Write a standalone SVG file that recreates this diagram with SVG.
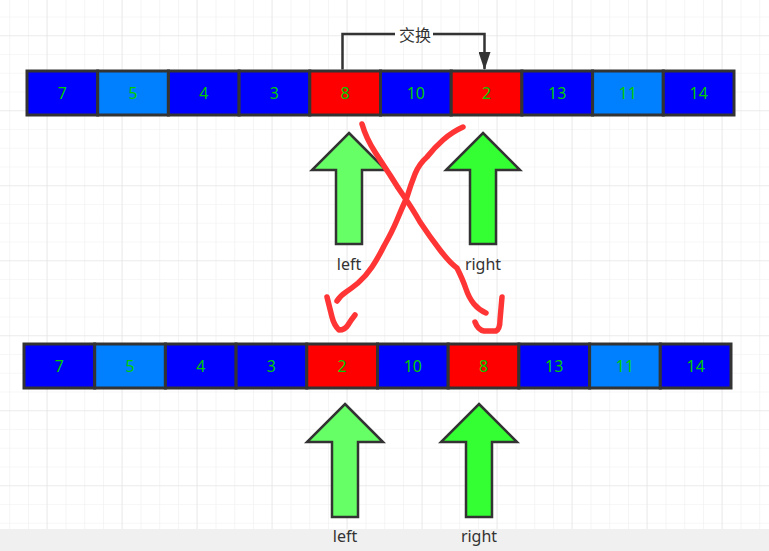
<svg xmlns="http://www.w3.org/2000/svg" width="769" height="551" viewBox="0 0 769 551">
<defs>
<pattern id="minor" x="9.25" y="16.5" width="18.75" height="18.75" patternUnits="userSpaceOnUse">
<path d="M0,0 V18.75 M0,0 H18.75" fill="none" stroke="#efefef" stroke-width="1.2"/>
</pattern>
<pattern id="major" x="46.5" y="35.25" width="75" height="75" patternUnits="userSpaceOnUse">
<path d="M0,0 V75 M0,0 H75" fill="none" stroke="#e2e2e2" stroke-width="1.2"/>
</pattern>
<marker id="ah" viewBox="0 0 18 12" refX="17" refY="6" markerWidth="18" markerHeight="12" markerUnits="userSpaceOnUse" orient="auto">
<path d="M0,0 L18,6 L0,12 Z" fill="#333"/>
</marker>
<style>
.cell{stroke:#333;stroke-width:3}
.b{fill:#0000ff}.lb{fill:#007fff}.r{fill:#ff0000}
.num{font-family:"Noto Sans","Liberation Sans",sans-serif;font-size:16px;fill:#00cc00;text-anchor:middle;dominant-baseline:central}
.lab{font-family:"Noto Sans","Liberation Sans",sans-serif;font-size:16px;fill:#333;text-anchor:middle;dominant-baseline:central}
.up{stroke:#333;stroke-width:2.5;stroke-linejoin:miter}
.red{fill:none;stroke:#ff3535;stroke-width:5.5;stroke-linecap:round;stroke-linejoin:round}
</style>
</defs>
<rect width="769" height="551" fill="#ffffff"/>
<rect width="769" height="529" fill="url(#minor)"/>
<rect width="769" height="529" fill="url(#major)"/>
<rect y="529" width="769" height="22" fill="#f0f0f0"/>

<g id="row-top">
<g id="t0"><rect class="cell b" x="27" y="71" width="70.7" height="44"/><text class="num" x="62.35" y="93">7</text></g>
<g id="t1"><rect class="cell lb" x="97.7" y="71" width="70.7" height="44"/><text class="num" x="133.05" y="93">5</text></g>
<g id="t2"><rect class="cell b" x="168.4" y="71" width="70.7" height="44"/><text class="num" x="203.75" y="93">4</text></g>
<g id="t3"><rect class="cell b" x="239.1" y="71" width="70.7" height="44"/><text class="num" x="274.45" y="93">3</text></g>
<g id="t4"><rect class="cell r" x="309.8" y="71" width="70.7" height="44"/><text class="num" x="345.15" y="93">8</text></g>
<g id="t5"><rect class="cell b" x="380.5" y="71" width="70.7" height="44"/><text class="num" x="415.85" y="93">10</text></g>
<g id="t6"><rect class="cell r" x="451.2" y="71" width="70.7" height="44"/><text class="num" x="486.55" y="93">2</text></g>
<g id="t7"><rect class="cell b" x="521.9" y="71" width="70.7" height="44"/><text class="num" x="557.25" y="93">13</text></g>
<g id="t8"><rect class="cell lb" x="592.6" y="71" width="70.7" height="44"/><text class="num" x="627.95" y="93">11</text></g>
<g id="t9"><rect class="cell b" x="663.3" y="71" width="70.7" height="44"/><text class="num" x="698.65" y="93">14</text></g>
</g>

<g id="row-bottom">
<g id="b0"><rect class="cell b" x="24" y="344" width="70.7" height="44"/><text class="num" x="59.35" y="366">7</text></g>
<g id="b1"><rect class="cell lb" x="94.7" y="344" width="70.7" height="44"/><text class="num" x="130.05" y="366">5</text></g>
<g id="b2"><rect class="cell b" x="165.4" y="344" width="70.7" height="44"/><text class="num" x="200.75" y="366">4</text></g>
<g id="b3"><rect class="cell b" x="236.1" y="344" width="70.7" height="44"/><text class="num" x="271.45" y="366">3</text></g>
<g id="b4"><rect class="cell r" x="306.8" y="344" width="70.7" height="44"/><text class="num" x="342.15" y="366">2</text></g>
<g id="b5"><rect class="cell b" x="377.5" y="344" width="70.7" height="44"/><text class="num" x="412.85" y="366">10</text></g>
<g id="b6"><rect class="cell r" x="448.2" y="344" width="70.7" height="44"/><text class="num" x="483.55" y="366">8</text></g>
<g id="b7"><rect class="cell b" x="518.9" y="344" width="70.7" height="44"/><text class="num" x="554.25" y="366">13</text></g>
<g id="b8"><rect class="cell lb" x="589.6" y="344" width="70.7" height="44"/><text class="num" x="624.95" y="366">11</text></g>
<g id="b9"><rect class="cell b" x="660.3" y="344" width="70.7" height="44"/><text class="num" x="695.65" y="366">14</text></g>
</g>

<g id="connectors">
<path d="M342.5,69.5 V34 H484.5 V69" fill="none" stroke="#333" stroke-width="2.5" marker-end="url(#ah)"/>
<rect x="395" y="25" width="38" height="18" fill="#ffffff"/>
<text class="lab" x="415" y="34" style="font-family:'Noto Sans CJK SC','Noto Sans',sans-serif">交换</text>
</g>

<g id="arrow-left-top">
<path class="up" fill="#66ff66" d="M349,133 L386,170 L362,170 L362,244 L336,244 L336,170 L312,170 Z"/>
<text class="lab" x="349" y="264">left</text>
</g>
<g id="arrow-right-top">
<path class="up" fill="#33ff33" d="M483,133 L520,170 L496,170 L496,244 L470,244 L470,170 L446,170 Z"/>
<text class="lab" x="483" y="264">right</text>
</g>
<g id="arrow-left-bottom">
<path class="up" fill="#66ff66" d="M345,404 L383,442 L358,442 L358,517 L332,517 L332,442 L307,442 Z"/>
<text class="lab" x="345" y="536">left</text>
</g>
<g id="arrow-right-bottom">
<path class="up" fill="#33ff33" d="M479,404 L517,442 L492,442 L492,517 L466,517 L466,442 L441,442 Z"/>
<text class="lab" x="479" y="536">right</text>
</g>

<g id="red-strokes">
<path class="red" d="M362,124 Q366,138 375,152 T390,175 Q398,188 405,198 T420,222 Q430,237 440,250 T457,268 Q463,280 466,289 T474,304 Q479,310 486,313"/>
<path class="red" d="M475,322 Q478,330 484,331 L496,331 Q500,329 500,320 L502,297"/>
<path class="red" d="M463,127 Q452,132 443,140 T427,157 Q419,164 415,174 T407,197 Q402,208 397,220 T384,246 Q378,258 372,267 T358,283 Q352,288 346,292 T337,301"/>
<path class="red" d="M327,297 Q330,309 332,317 T339,330 Q345,330 348,325 T355,315"/>
</g>
</svg>
